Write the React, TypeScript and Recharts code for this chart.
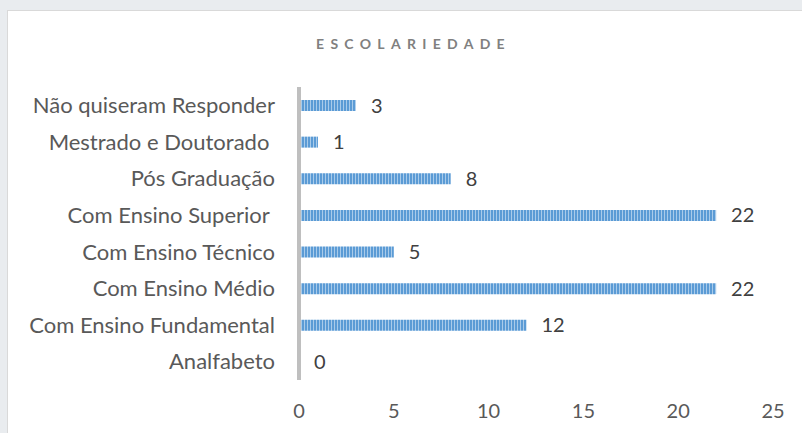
import React from "react";
import { BarChart, Bar, XAxis, YAxis, LabelList } from "recharts";

const categories = [
  "Não quiseram Responder",
  "Mestrado e Doutorado\u00a0",
  "Pós Graduação",
  "Com Ensino Superior\u00a0",
  "Com Ensino Técnico",
  "Com Ensino Médio",
  "Com Ensino Fundamental",
  "Analfabeto",
];
const values = [3, 1, 8, 22, 5, 22, 12, 0];
const xTicks = [0, 5, 10, 15, 20, 25];
const title = "ESCOLARIEDADE";

const data = categories.map((c, i) => ({ name: c, value: values[i] }));

const FONT = "Lato, Carlito, 'Open Sans', sans-serif";

export default function App() {
  return (
    <div
      style={{
        position: "absolute",
        left: 0,
        top: 0,
        width: 802,
        height: 433,
        background: "#e9ecef",
        overflow: "hidden",
      }}
    >
      <div
        style={{
          position: "absolute",
          left: 7,
          top: 10,
          width: 795,
          height: 423,
          background: "#ffffff",
          borderTop: "1px solid #d9d9d9",
          borderLeft: "1px solid #d9d9d9",
          boxSizing: "border-box",
        }}
      >
        <div
          style={{
            position: "absolute",
            left: 8,
            width: 795,
            top: 25,
            textAlign: "center",
            fontFamily: FONT,
            fontWeight: 700,
            fontSize: 14,
            letterSpacing: 6.3,
            color: "#808080",
            lineHeight: "16px",
          }}
        >
          {title}
        </div>
        <BarChart
          width={794}
          height={422}
          data={data}
          layout="vertical"
          margin={{ top: 76, right: 29, bottom: 22, left: 0 }}
        >
          <defs>
            <pattern id="stripes" width="3" height="10" patternUnits="userSpaceOnUse">
              <rect x="0" y="0" width="3" height="10" fill="#a9cbea" />
              <rect x="0" y="0" width="2" height="10" fill="#5b9bd5" />
            </pattern>
          </defs>
          <XAxis
            type="number"
            domain={[0, 25]}
            ticks={xTicks}
            axisLine={false}
            tickLine={false}
            tickMargin={18}
            height={31}
            tick={{ fill: "#595959", fontSize: 20, fontFamily: FONT }}
          />
          <YAxis
            type="category"
            dataKey="name"
            width={291}
            axisLine={{ stroke: "#bfbfbf", strokeWidth: 4 }}
            tickLine={false}
            tickMargin={18}
            interval={0}
            tick={{ fill: "#595959", fontSize: 22, fontFamily: FONT }}
          />
          <Bar
            dataKey="value"
            fill="url(#stripes)"
            barSize={11}
            minPointSize={0.01}
            isAnimationActive={false}
          >
            <LabelList
              dataKey="value"
              position="right"
              offset={15}
              style={{ fill: "#404040", fontSize: 20, fontFamily: FONT }}
            />
          </Bar>
        </BarChart>
      </div>
    </div>
  );
}
